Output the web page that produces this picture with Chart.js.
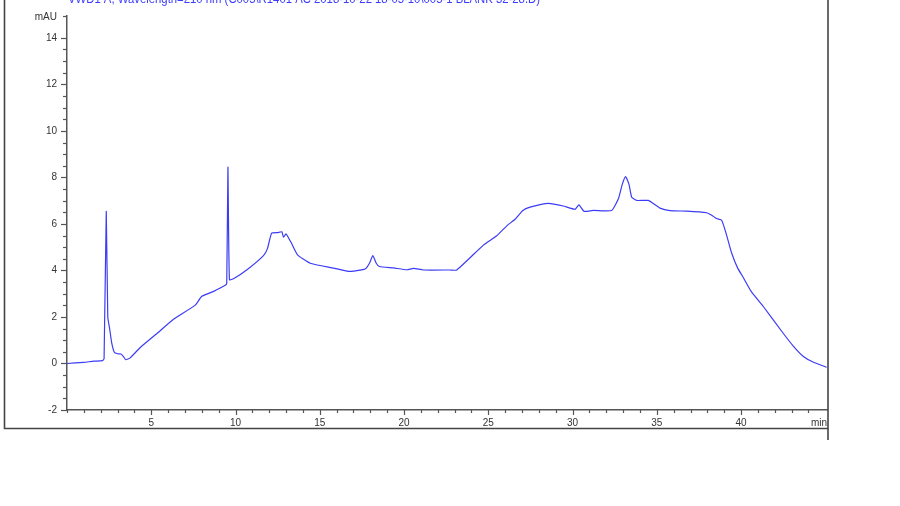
<!DOCTYPE html>
<html><head><meta charset="utf-8">
<script src="https://cdn.jsdelivr.net/npm/chart.js@4.4.0/dist/chart.umd.min.js"></script>
<style>html,body{margin:0;padding:0;background:#fff}#wrap{width:900px;height:506px;position:relative}</style>
</head><body><div id="wrap"><canvas id="c" width="900" height="506"></canvas></div>
<script>
const titleText = "VWD1 A, Wavelength=210 nm (C005\\R1401 AC 2018-10-22 18-05-10\\005-1 BLANK 32-28.D)";
const xUnit = "min";
const yUnit = "mAU";
const xTickLabels = [5, 10, 15, 20, 25, 30, 35, 40];
const yTickLabels = [-2, 0, 2, 4, 6, 8, 10, 12, 14];
const timeMin = [0, 1.0, 1.6, 2.1, 2.2, 2.33, 2.42, 2.53, 2.65, 2.81, 3.0, 3.2, 3.35, 3.48, 3.75, 4.35, 5.34, 6.32, 7.61, 8.0, 8.7, 9.39, 9.48, 9.55, 9.64, 9.9, 10.68, 11.66, 11.9, 12.14, 12.5, 12.75, 12.85, 13.0, 13.3, 13.68, 14.43, 15.81, 16.7, 17.0, 17.69, 17.95, 18.15, 18.35, 18.54, 19.37, 20.17, 20.56, 21.15, 22.73, 23.13, 24.71, 25.5, 26.13, 26.59, 27.05, 27.48, 28.57, 29.45, 30.15, 30.38, 30.68, 31.23, 32.32, 32.72, 32.95, 33.15, 33.35, 33.51, 33.81, 34.5, 35.19, 35.78, 36.77, 37.96, 38.26, 38.55, 38.85, 39.15, 39.44, 39.8, 40.13, 40.6, 41.32, 42.5, 43.1, 43.7, 44.3, 45.08];
const signalMAU = [0.0, 0.05, 0.1, 0.12, 0.2, 6.54, 2.0, 1.5, 0.9, 0.48, 0.42, 0.41, 0.3, 0.16, 0.24, 0.69, 1.29, 1.9, 2.51, 2.89, 3.1, 3.36, 3.45, 8.44, 3.6, 3.65, 4.03, 4.64, 4.95, 5.6, 5.63, 5.66, 5.43, 5.57, 5.2, 4.67, 4.31, 4.1, 3.96, 3.97, 4.06, 4.31, 4.64, 4.31, 4.17, 4.11, 4.03, 4.09, 4.02, 4.02, 4.02, 5.09, 5.49, 5.94, 6.2, 6.58, 6.72, 6.88, 6.77, 6.63, 6.82, 6.54, 6.58, 6.58, 7.08, 7.7, 8.03, 7.7, 7.15, 7.01, 7.01, 6.68, 6.57, 6.55, 6.48, 6.37, 6.23, 6.16, 5.5, 4.75, 4.1, 3.7, 3.1, 2.45, 1.3, 0.75, 0.3, 0.05, -0.16];

const FONT = "Liberation Sans, Arial, sans-serif";
const AXIS = "#555555";
const TEXT = "#333333";

const decor = {
  id: 'decor',
  afterDraw(chart) {
    const ctx = chart.ctx, ca = chart.chartArea;
    const xs = chart.scales.x, ys = chart.scales.y;
    ctx.save();
    ctx.strokeStyle = AXIS; ctx.lineWidth = 1.2;
    ys.ticks.forEach(t => {
      const py = Math.round(ys.getPixelForValue(t.value)) + 0.5;
      const len = yTickLabels.includes(t.value) ? 6 : 4;
      ctx.beginPath(); ctx.moveTo(ca.left - len, py); ctx.lineTo(ca.left, py); ctx.stroke();
    });
    xs.ticks.forEach(t => {
      if (t.value > xs.max - 0.5) return;
      const px = Math.round(xs.getPixelForValue(t.value)) + 0.5;
      const len = xTickLabels.includes(t.value) ? 5 : 3;
      ctx.beginPath(); ctx.moveTo(px, ca.bottom); ctx.lineTo(px, ca.bottom + len); ctx.stroke();
    });
    ctx.fillStyle = TEXT; ctx.font = "10px " + FONT;
    ctx.textAlign = 'right'; ctx.textBaseline = 'middle';
    ctx.fillText(yUnit, 57, 17);
    ctx.textAlign = 'left';
    ctx.fillText(xUnit, 811, 423);
    ctx.fillStyle = "#3c3cff"; ctx.font = "12px " + FONT;
    ctx.textAlign = 'left'; ctx.textBaseline = 'alphabetic';
    ctx.fillText(titleText, 68, 3, 472);
    ctx.strokeStyle = "#444444"; ctx.lineWidth = 1.6;
    ctx.beginPath(); ctx.moveTo(4.5, 0); ctx.lineTo(4.5, 428.5); ctx.lineTo(828, 428.5); ctx.stroke();
    ctx.beginPath(); ctx.moveTo(828, 0); ctx.lineTo(828, 440); ctx.stroke();
    ctx.restore();
  }
};

new Chart(document.getElementById('c'), {
  type: 'line',
  data: {
    datasets: [{
      data: timeMin.map((t, i) => ({x: t, y: signalMAU[i]})),
      borderColor: '#3c3cf5',
      borderWidth: 1.2,
      pointRadius: 0,
      tension: 0.15,
      fill: false
    }]
  },
  plugins: [decor],
  options: {
    responsive: false,
    devicePixelRatio: 1,
    animation: false,
    events: [],
    layout: {padding: {left: 10, top: 12, right: 73, bottom: 0}},
    plugins: {legend: {display: false}, tooltip: {enabled: false}, title: {display: false}},
    scales: {
      x: {
        type: 'linear', min: 0, max: 45.1,
        afterFit(s) { s.height = 96; },
        grid: {display: false, drawTicks: false},
        border: {display: true, color: AXIS, width: 1.5},
        ticks: {
          stepSize: 1, autoSkip: false, maxRotation: 0, padding: 7,
          color: TEXT, font: {family: FONT, size: 10},
          callback: v => xTickLabels.includes(v) ? String(v) : ''
        }
      },
      y: {
        type: 'linear', min: -2, max: 14.94,
        afterFit(s) { s.width = 57; },
        grid: {display: false, drawTicks: false},
        border: {display: true, color: AXIS, width: 1.5},
        ticks: {
          stepSize: 0.5, autoSkip: false, padding: 10,
          color: TEXT, font: {family: FONT, size: 10},
          callback: v => yTickLabels.includes(v) ? String(v) : ''
        }
      }
    }
  }
});
</script>
</body></html>
